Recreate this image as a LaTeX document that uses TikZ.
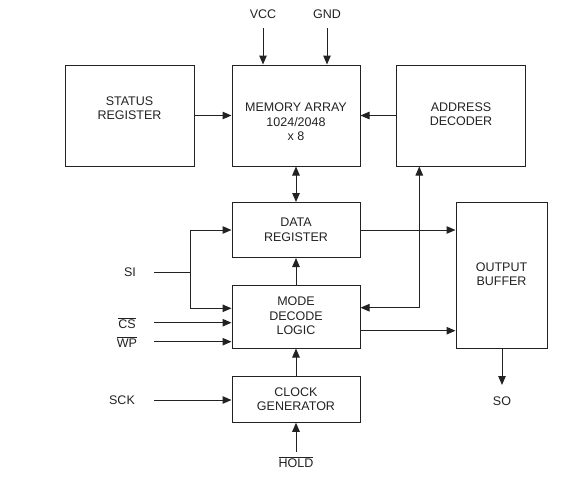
\documentclass[tikz,border=0pt]{standalone}
\usepackage{fontspec}
\setmainfont{Liberation Sans}
\usetikzlibrary{arrows.meta,calc}
\definecolor{ink}{HTML}{222222}
\begin{document}
\begin{tikzpicture}[x=1pt,y=-1pt,
  every node/.style={font=\fontsize{12.5}{14.5}\selectfont, text=ink},
  box/.style={draw=ink, line width=1pt, inner sep=0pt},
  txt/.style={align=center, inner sep=0pt},
  lab/.style={inner sep=0pt},
  wire/.style={draw=ink, line width=1pt},
  arr/.style={wire, -{Triangle[length=9pt,width=7.5pt]}},
  darr/.style={wire, {Triangle[length=9pt,width=7.5pt]}-{Triangle[length=9pt,width=7.5pt]}}]
\useasboundingbox (0,0) rectangle (587,488);
% boxes
\node[box, minimum width=129pt, minimum height=101pt] (status) at (129.5,115.5) {};
\node[box, minimum width=128pt, minimum height=101pt] (memory) at (296,115.5) {};
\node[box, minimum width=129pt, minimum height=101pt] (address) at (461,115.5) {};
\node[box, minimum width=128pt, minimum height=55pt] (data) at (296,230) {};
\node[box, minimum width=128pt, minimum height=63pt] (mode) at (296,316.5) {};
\node[box, minimum width=91pt, minimum height=145.5pt] (output) at (501.5,275.5) {};
\node[box, minimum width=128pt, minimum height=45.5pt] (clock) at (296,399.5) {};
% box texts
\node[txt] (statust) at (129.5,108) {STATUS\\REGISTER};
\node[txt] (memoryt) at (296,122) {MEMORY ARRAY\\1024/2048\\x 8};
\node[txt] (addresst) at (461,114) {ADDRESS\\DECODER};
\node[txt] (datat) at (296,230) {DATA\\REGISTER};
\node[txt] (modet) at (296,316) {MODE\\DECODE\\LOGIC};
\node[txt] (outputt) at (501.5,274) {OUTPUT\\BUFFER};
\node[txt] (clockt) at (296,399) {CLOCK\\GENERATOR};
% pin labels
\node[lab] (vcc) at (263,14) {VCC};
\node[lab] (gnd) at (327,14) {GND};
\node[lab] (si) at (130,272) {SI};
\node[lab] (cs) at (127,323) {$\overline{\mbox{CS}}$};
\node[lab] (wp) at (127,342) {$\overline{\mbox{WP}}$};
\node[lab] (sck) at (122,400) {SCK};
\node[lab] (so) at (502,401) {SO};
\node[lab] (hold) at (296,462) {$\overline{\mbox{HOLD}}$};
% wire end points
\coordinate (vccs) at (263,28);
\coordinate (gnds) at (327,28);
\coordinate (sis) at (154,272);
\coordinate (sij) at (190.7,272);
\coordinate (css) at (154,322.7);
\coordinate (wps) at (154,341.7);
\coordinate (scks) at (154,400);
\coordinate (soe) at (502,385);
\coordinate (holds) at (296,451.5);
\coordinate (adx) at (419.3,307.7);
% connectors
\draw[arr] (vccs) -- (vccs |- memory.north);
\draw[arr] (gnds) -- (gnds |- memory.north);
\draw[arr] (status.east) -- (memory.west);
\draw[arr] (address.west) -- (memory.east);
\draw[darr] (memory.south) -- (data.north);
\draw[arr] (mode.north) -- (data.south);
\draw[arr] (clock.north) -- (mode.south);
\draw[arr] (holds) -- (clock.south);
\draw[arr] (data.east) -- (data.east -| output.west);
\draw[arr] (mode.east |- 0,330.7) -- (output.west |- 0,330.7);
\draw[darr] (adx |- address.south) -- (adx) -- (adx -| mode.east);
\draw[wire] (sis) -- (sij);
\draw[arr] (sij) -- (sij |- data.west) -- (data.west);
\draw[arr] (sij) -- (sij |- 0,308.3) -- (mode.west |- 0,308.3);
\draw[arr] (css) -- (css -| mode.west);
\draw[arr] (wps) -- (wps -| mode.west);
\draw[arr] (scks) -- (scks -| clock.west);
\draw[arr] (output.south -| soe) -- (soe);
\end{tikzpicture}
\end{document}
